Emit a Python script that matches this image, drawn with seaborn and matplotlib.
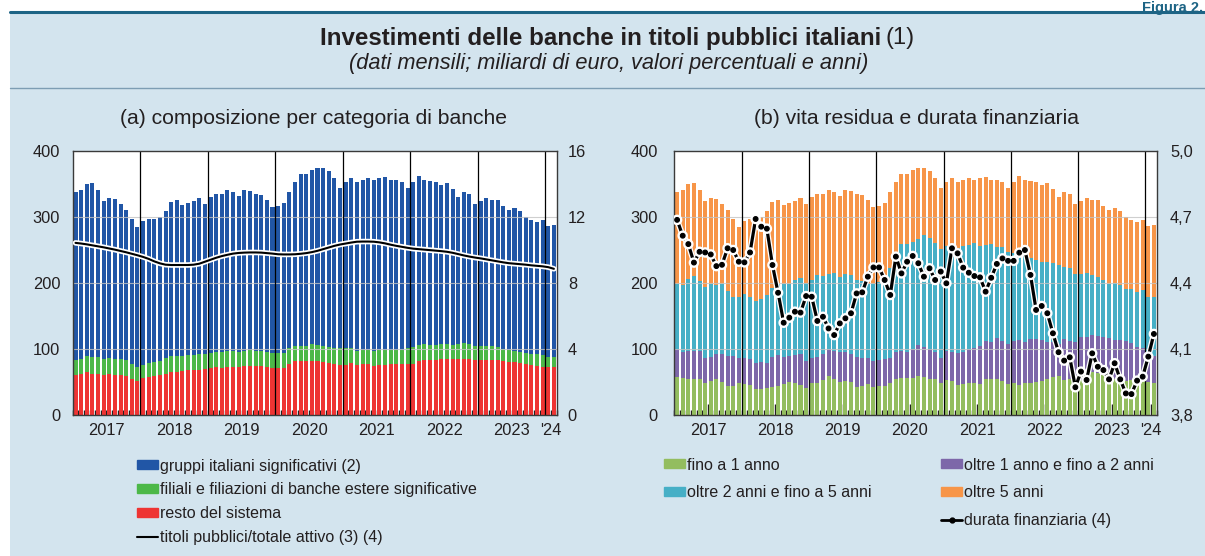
import numpy as np
import pandas as pd
import matplotlib.pyplot as plt
import matplotlib.patheffects as pe
from matplotlib.patches import Patch, Rectangle
from matplotlib.lines import Line2D
from matplotlib.ticker import FixedLocator, FuncFormatter
import seaborn as sns

# dati mensili gen 2017 - feb 2024 (miliardi di euro)
totale = [
    337, 340, 349, 351, 341, 324, 328, 327, 320, 310, 296, 284,   # 2017
    294, 297, 297, 299, 308, 322, 325, 318, 321, 324, 329, 319,   # 2018
    330, 335, 334, 340, 337, 331, 340, 339, 335, 333, 325, 315,   # 2019
    316, 321, 337, 353, 364, 364, 371, 374, 374, 369, 358, 344,   # 2020
    352, 359, 352, 355, 359, 355, 358, 360, 356, 355, 352, 343,   # 2021
    352, 361, 356, 354, 353, 348, 351, 342, 330, 338, 335, 320,   # 2022
    324, 328, 325, 325, 316, 310, 313, 308, 300, 295, 292, 295,   # 2023
    286, 287,                                                     # 2024
]
resto = [
    60.5, 62, 65, 62.5, 62.5, 60.5, 62, 61, 60.5, 59.5, 55, 52,
    56.5, 58, 59.5, 60, 62.5, 65.5, 65.5, 67, 68, 68.5, 68.5, 69,
    70.5, 73, 71.5, 73, 73, 72, 74.5, 74.5, 74, 74, 73, 71.5,
    71, 71.5, 77, 82, 82, 82, 82, 81, 80, 78, 77, 75.5,
    75.5, 78, 75.5, 77, 77, 74.5, 75, 75, 76.5, 77, 77, 77.5,
    77.5, 82, 83, 83, 83, 84.5, 84, 84, 85.5, 85.5, 84.5, 83,
    83, 83, 83, 83, 81, 80.5, 80.5, 79, 77, 75.5, 74.5, 73,
    73, 72,
]
filiali = [
    22.5, 22.5, 24, 25, 25, 24.5, 24.5, 23.5, 23.5, 23.5, 22, 20,
    19, 20, 20.5, 21.5, 24, 23.5, 24.5, 23, 23, 23, 23.5, 23,
    23.5, 23, 24.5, 24, 24, 23, 22.5, 23.5, 23, 23, 23, 22.5,
    23, 22.5, 25, 23, 23, 23, 25, 25, 25, 25, 25, 25.5,
    25.5, 23, 21.5, 21, 21, 22.5, 23, 24, 22.5, 22, 22, 24.5,
    25.5, 24, 24, 23, 23, 23.5, 23, 22, 22.5, 23.5, 23.5, 21,
    22, 22, 21, 20, 19, 17.5, 16.5, 16, 17, 17.5, 17.5, 18,
    15, 16,
]
# titoli pubblici / totale attivo (valori percentuali)
titoli_attivo = [
    10.42, 10.38, 10.33, 10.27, 10.21, 10.15, 10.08, 10.01, 9.93, 9.85, 9.76, 9.67,
    9.57, 9.45, 9.30, 9.18, 9.10, 9.08, 9.08, 9.08, 9.08, 9.10, 9.16, 9.28,
    9.40, 9.52, 9.62, 9.70, 9.77, 9.81, 9.83, 9.84, 9.84, 9.83, 9.80, 9.77,
    9.73, 9.72, 9.72, 9.73, 9.76, 9.80, 9.86, 9.94, 10.04, 10.14, 10.24, 10.32,
    10.38, 10.44, 10.49, 10.50, 10.50, 10.49, 10.45, 10.39, 10.31, 10.24, 10.18, 10.12,
    10.07, 10.04, 10.01, 9.98, 9.95, 9.92, 9.88, 9.82, 9.74, 9.66, 9.59, 9.53,
    9.48, 9.42, 9.36, 9.30, 9.24, 9.19, 9.16, 9.13, 9.10, 9.06, 9.03, 9.00,
    8.95, 8.85,
]

# vita residua
fino_1 = [
    57, 55.5, 55, 55, 55, 49, 51.5, 55, 50.5, 44, 44.5, 48,
    46.5, 45.5, 39.5, 39.5, 41.5, 43, 44.5, 46.5, 50.5, 48, 45.5, 40.5,
    48, 49, 53, 59, 54, 49.5, 52, 49.5, 43, 44, 46.5, 43,
    44, 44, 48, 54, 55.5, 56, 55.5, 59.5, 57, 54, 54, 48,
    53, 52, 45.5, 47, 48, 48, 47.5, 54, 54, 54, 52, 46.5,
    48, 45.5, 48, 48, 49.5, 52, 54, 57, 59, 53, 54, 50,
    53, 53, 65.5, 63, 60.5, 57, 54, 52, 52, 53, 54, 54,
    49.5, 48,
]
oltre_1_2 = [
    43, 40.5, 42.5, 42.5, 42.5, 38, 37, 37, 41.5, 45.5, 45, 39,
    40.5, 39, 38.5, 41, 37.5, 45, 46.5, 41.5, 38.5, 43, 47.5, 41.5,
    39, 39, 40, 41, 43, 45.5, 43, 43.5, 45, 42, 39.5, 38,
    39, 40.5, 39, 42, 42, 40, 44, 46.5, 46.5, 45.5, 42, 39,
    44, 43, 49, 48.5, 52, 54, 57, 58.5, 57, 62, 60, 61,
    64, 68, 63, 66.5, 65, 61.5, 57, 54, 48.5, 62, 58.5, 60,
    65.5, 64.5, 55.5, 56.5, 58, 59, 59.5, 61.5, 60, 56.5, 49.5, 47,
    41.5, 41.5,
]
oltre_2_5 = [
    98, 100.5, 108.5, 112.5, 105.5, 107, 109.5, 104, 106, 98.5, 88.5, 91,
    96, 94.5, 95, 94.5, 102, 103.5, 108, 110, 110, 113, 114, 118,
    117, 124, 117, 114, 118, 114, 119, 119, 117, 117, 113, 117,
    118, 122, 135, 149, 161.5, 163, 162.5, 161, 168.5, 168.5, 164, 164,
    159, 161, 157.5, 160.5, 157, 158, 151.5, 144.5, 148, 138.5, 141.5, 139.5,
    133.5, 131, 131, 122.5, 120, 118.5, 121, 118.5, 119.5, 109.5, 109.5, 104,
    94.5, 97.5, 91, 89.5, 85.5, 83, 86.5, 83.5, 78, 80.5, 83, 88,
    87, 89.5,
]
# durata finanziaria (anni)
durata = [
    4.686, 4.614, 4.576, 4.492, 4.541, 4.538, 4.529, 4.476, 4.482, 4.557, 4.549, 4.496,
    4.493, 4.538, 4.690, 4.655, 4.646, 4.481, 4.355, 4.219, 4.242, 4.269, 4.265, 4.340,
    4.337, 4.227, 4.246, 4.193, 4.163, 4.216, 4.239, 4.262, 4.352, 4.357, 4.428, 4.470,
    4.470, 4.413, 4.345, 4.519, 4.443, 4.496, 4.522, 4.489, 4.428, 4.466, 4.413, 4.451,
    4.398, 4.557, 4.534, 4.469, 4.446, 4.431, 4.425, 4.360, 4.423, 4.486, 4.511, 4.500,
    4.500, 4.537, 4.549, 4.436, 4.277, 4.295, 4.262, 4.171, 4.085, 4.047, 4.062, 3.926,
    3.997, 3.959, 4.080, 4.019, 4.004, 3.962, 4.035, 3.962, 3.898, 3.895, 3.956, 3.974,
    4.065, 4.168,
]
anni = ["2017", "2018", "2019", "2020", "2021", "2022", "2023", "'24"]

df = pd.DataFrame({
    "mese": np.arange(len(totale)),
    "totale": totale, "resto": resto, "filiali": filiali,
    "titoli_attivo": titoli_attivo,
    "fino_1": fino_1, "oltre_1_2": oltre_1_2, "oltre_2_5": oltre_2_5,
    "durata": durata,
})
df["gruppi"] = df["totale"] - df["resto"] - df["filiali"]
df["oltre_5"] = df["totale"] - df["fino_1"] - df["oltre_1_2"] - df["oltre_2_5"]

BG = "#d3e4ee"
TXT = "#231f20"
BLU, VERDE, ROSSO = "#2156a6", "#4cb848", "#ee3433"
C1, C12, C25, C5 = "#93bd5f", "#7d67a9", "#46afc6", "#f79548"
TICK_FS = 11.8

sns.set_style("white")
plt.rcParams["font.family"] = ["Liberation Sans", "DejaVu Sans"]
plt.rcParams["text.color"] = TXT
plt.rcParams["axes.labelcolor"] = TXT
plt.rcParams["xtick.color"] = TXT
plt.rcParams["ytick.color"] = TXT

W, H = 1205, 556
fig = plt.figure(figsize=(W / 100, H / 100), dpi=100)
fig.patch.set_facecolor("white")


def fx(x):
    return x / W


def fy(y):
    return 1 - y / H


# sfondo e cornice
fig.add_artist(Rectangle((fx(10), 0), 1 - fx(10), fy(13), transform=fig.transFigure,
                         facecolor=BG, edgecolor="none", zorder=-10))
fig.add_artist(Line2D([fx(10), 1], [fy(12), fy(12)], color="#1d6485", lw=2.2))
fig.add_artist(Line2D([fx(10), 1], [fy(88), fy(88)], color="#7d9db3", lw=1.0))
fig.text(fx(1203), fy(1), "Figura 2.", ha="right", va="top", fontsize=10.5,
         fontweight="bold", color="#1d6485")

fig.text(fx(881), fy(38), "Investimenti delle banche in titoli pubblici italiani",
         ha="right", va="center", fontsize=17.4, fontweight="bold")
fig.text(fx(885), fy(38), "(1)", ha="left", va="center", fontsize=17)
fig.text(fx(609), fy(64), "(dati mensili; miliardi di euro, valori percentuali e anni)",
         ha="center", va="center", fontsize=15.7, style="italic")
fig.text(fx(314), fy(118), "(a) composizione per categoria di banche",
         ha="center", va="center", fontsize=15.2)
fig.text(fx(917), fy(118), "(b) vita residua e durata finanziaria",
         ha="center", va="center", fontsize=15.2)

n = len(df)
year_lines = np.arange(11.5, n - 1, 12)
mid_year = list(np.arange(5.5, 84, 12)) + [84.5]


def base_axes(rect):
    ax = fig.add_axes(rect)
    ax.set_facecolor("white")
    return ax


def finish(ax, long_major):
    ax.set_xlim(-0.5, n - 0.5)
    ax.set_ylim(0, 400)
    ax.set_yticks([0, 100, 200, 300, 400])
    for y in [100, 200, 300]:
        ax.axhline(y, color="#c4c4c4", lw=0.8, zorder=3, alpha=0.8)
    for x in year_lines:
        ax.axvline(x, color="black", lw=0.9, zorder=4)
    ax.xaxis.set_major_locator(FixedLocator(mid_year))
    ax.set_xticklabels(anni)
    ax.xaxis.set_minor_locator(FixedLocator(np.arange(-0.5, n, 1)))
    ax.tick_params(axis="x", which="major", direction="in", length=long_major,
                   width=1, labelsize=TICK_FS, pad=6, bottom=True)
    ax.tick_params(axis="x", which="minor", direction="in", length=3.5,
                   width=1, bottom=True)
    ax.set_xlabel("")
    ax.set_ylabel("")
    for s in ax.spines.values():
        s.set_color("#3a3a3a")
        s.set_linewidth(1.0)
        s.set_zorder(6)


# (a) composizione per categoria di banche
axa = base_axes([fx(72.7), fy(415), fx(484), 264.3 / H])
bar_kw = dict(x="mese", width=0.72, saturation=1, linewidth=0, errorbar=None, ax=axa)
sns.barplot(data=df, y="totale", color=BLU, **bar_kw)
df["cum_a2"] = df["resto"] + df["filiali"]
sns.barplot(data=df, y="cum_a2", color=VERDE, **bar_kw)
sns.barplot(data=df, y="resto", color=ROSSO, **bar_kw)
finish(axa, 3.5)
axa.tick_params(axis="y", length=0, labelsize=TICK_FS, pad=9)

axa2 = axa.twinx()
sns.lineplot(data=df, x="mese", y="titoli_attivo", ax=axa2, color="black", lw=1.5,
             path_effects=[pe.Stroke(linewidth=4, foreground="white"), pe.Normal()])
axa2.set_ylim(0, 16)
axa2.set_yticks([0, 4, 8, 12, 16])
axa2.tick_params(axis="y", length=0, labelsize=TICK_FS, pad=8)
axa2.set_ylabel("")
axa2.set_xlim(-0.5, n - 0.5)
for s in axa2.spines.values():
    s.set_visible(False)

# (b) vita residua e durata finanziaria
axb = base_axes([fx(674.3), fy(415), fx(482.4), 264.3 / H])
bar_kw["ax"] = axb
sns.barplot(data=df, y="totale", color=C5, **bar_kw)
df["cum_b3"] = df["fino_1"] + df["oltre_1_2"] + df["oltre_2_5"]
df["cum_b2"] = df["fino_1"] + df["oltre_1_2"]
sns.barplot(data=df, y="cum_b3", color=C25, **bar_kw)
sns.barplot(data=df, y="cum_b2", color=C12, **bar_kw)
sns.barplot(data=df, y="fino_1", color=C1, **bar_kw)
finish(axb, 8)
axb.tick_params(axis="y", length=0, labelsize=TICK_FS, pad=12)

axb2 = axb.twinx()
sns.lineplot(data=df, x="mese", y="durata", ax=axb2, color="black", lw=2.3,
             marker="o", markersize=3.4, markeredgecolor="black", markeredgewidth=0.8,
             path_effects=[pe.Stroke(linewidth=4.2, foreground="white"), pe.Normal()])
axb2.set_ylim(3.8, 5.0)
axb2.set_yticks([3.8, 4.1, 4.4, 4.7, 5.0])
axb2.yaxis.set_major_formatter(FuncFormatter(lambda v, p: f"{v:.1f}".replace(".", ",")))
axb2.tick_params(axis="y", length=0, labelsize=TICK_FS, pad=9.5)
axb2.set_ylabel("")
axb2.set_xlim(-0.5, n - 0.5)
for s in axb2.spines.values():
    s.set_visible(False)

# legende
leg_kw = dict(loc="upper left", frameon=False, fontsize=11.5, borderaxespad=0,
              borderpad=0, handlelength=1.33, handleheight=0.5, handletextpad=0.12)
fig.legend(handles=[Patch(color=BLU), Patch(color=VERDE), Patch(color=ROSSO),
                    Line2D([], [], color="black", lw=1.5)],
           labels=["gruppi italiani significativi (2)",
                   "filiali e filiazioni di banche estere significative",
                   "resto del sistema", "titoli pubblici/totale attivo (3) (4)"],
           bbox_to_anchor=(fx(137), fy(458.5)), labelspacing=0.56, **leg_kw)
fig.legend(handles=[Patch(color=C1), Patch(color=C25)],
           labels=["fino a 1 anno", "oltre 2 anni e fino a 5 anni"],
           bbox_to_anchor=(fx(664), fy(457.5)), labelspacing=0.8, **leg_kw)
fig.legend(handles=[Patch(color=C12), Patch(color=C5),
                    Line2D([], [], color="black", lw=2, marker="o", markersize=3.5)],
           labels=["oltre 1 anno e fino a 2 anni", "oltre 5 anni", "durata finanziaria (4)"],
           bbox_to_anchor=(fx(941), fy(457.5)), labelspacing=0.8, **leg_kw)

fig.savefig("out.png", dpi=100)
